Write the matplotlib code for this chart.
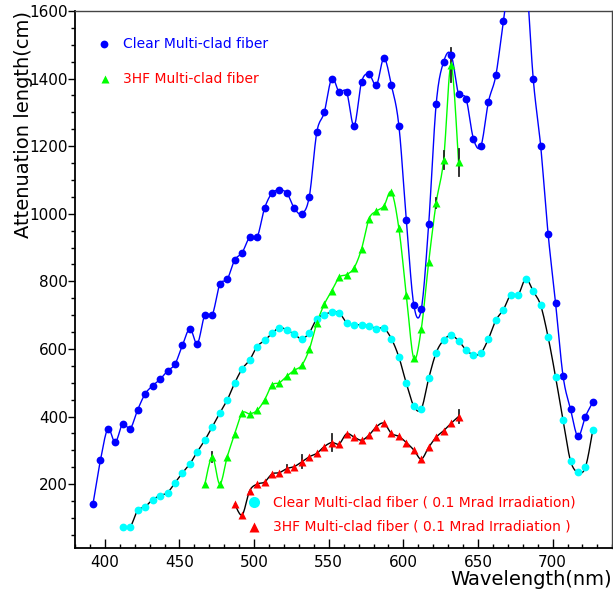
import numpy as np
import matplotlib
matplotlib.use("Agg")
import matplotlib.pyplot as plt
from matplotlib.lines import Line2D
from matplotlib.ticker import MultipleLocator

plt.rcParams['font.family'] = ['DejaVu Sans']

# ---------------- data ----------------
clear_wl = [392, 397, 402, 407, 412, 417, 422, 427, 432, 437, 442, 447, 452, 457, 462,
            467, 472, 477, 482, 487, 492, 497, 502, 507, 512, 517, 522, 527, 532, 537,
            542, 547, 552, 557, 562, 567, 572, 577, 582, 587, 592, 597, 602, 607, 612,
            617, 622, 627, 632, 637, 642, 647, 652, 657, 662, 667, 672, 677, 682, 687,
            692, 697, 702, 707, 712, 717, 722, 727]
clear_att = [140, 270, 363, 324, 379, 364, 420, 467, 491, 510, 535, 555, 611, 660, 616,
             701, 701, 791, 806, 863, 885, 930, 930, 1016, 1061, 1070, 1061, 1016, 1000, 1051,
             1241, 1300, 1400, 1360, 1360, 1260, 1390, 1413, 1381, 1460, 1380, 1261, 981, 730, 717,
             971, 1325, 1450, 1471, 1354, 1341, 1221, 1201, 1331, 1410, 1570, 1720, 1800, 1720, 1400,
             1201, 940, 735, 520, 422, 341, 400, 443]

clear_irr_wl = [412, 417, 422, 427, 432, 437, 442, 447, 452, 457, 462, 467, 472, 477, 482,
                487, 492, 497, 502, 507, 512, 517, 522, 527, 532, 537, 542, 547, 552, 557,
                562, 567, 572, 577, 582, 587, 592, 597, 602, 607, 612, 617, 622, 627, 632,
                637, 642, 647, 652, 657, 662, 667, 672, 677, 682, 687, 692, 697, 702, 707,
                712, 717, 722, 727]
clear_irr_att = [74, 74, 122, 133, 154, 166, 175, 204, 233, 260, 296, 330, 370, 410, 449,
                 499, 541, 567, 607, 625, 646, 663, 656, 643, 630, 648, 690, 701, 709, 707,
                 678, 671, 672, 668, 660, 661, 630, 576, 498, 431, 422, 513, 589, 626, 640,
                 624, 597, 583, 588, 630, 685, 716, 761, 761, 807, 771, 729, 635, 517, 389,
                 269, 235, 250, 361]

hf_wl = [467, 472, 477, 482, 487, 492, 497, 502, 507, 512, 517, 522, 527, 532, 537,
         542, 547, 552, 557, 562, 567, 572, 577, 582, 587, 592, 597, 602, 607, 612,
         617, 622, 627, 632, 637]
hf_att = [200, 281, 200, 281, 348, 410, 408, 418, 449, 493, 500, 520, 537, 552, 599,
          676, 732, 772, 812, 820, 840, 896, 985, 1008, 1023, 1064, 957, 760, 572, 659,
          858, 1033, 1160, 1440, 1152]
hf_err = [0, 15, 0, 0, 0, 0, 0, 0, 0, 0, 0, 0, 0, 0, 0,
          0, 0, 0, 0, 0, 0, 0, 0, 0, 0, 0, 0, 0, 0, 0,
          0, 15, 27, 51, 40]

hf_irr_wl = [487, 492, 497, 502, 507, 512, 517, 522, 527, 532, 537, 542, 547, 552, 557,
             562, 567, 572, 577, 582, 587, 592, 597, 602, 607, 612, 617, 622, 627, 632, 637]
hf_irr_att = [141, 109, 180, 200, 206, 230, 234, 246, 252, 266, 281, 291, 311, 323, 319,
              349, 339, 330, 345, 370, 380, 350, 341, 323, 301, 274, 309, 339, 358, 380, 400]
hf_irr_err = [0, 0, 0, 0, 0, 0, 0, 10, 0, 19, 0, 0, 0, 24, 0,
              0, 0, 0, 0, 0, 0, 0, 0, 0, 0, 0, 0, 0, 0, 0, 20]

legend_top = ["Clear Multi-clad fiber", "3HF Multi-clad fiber"]
legend_bottom = ["Clear Multi-clad fiber ( 0.1 Mrad Irradiation)",
                 "3HF Multi-clad fiber ( 0.1 Mrad Irradiation )"]


def smooth(x, y, n=12):
    """Catmull-Rom curve through the data points (drawing only)."""
    P = np.column_stack([np.asarray(x, float), np.asarray(y, float)])
    P = np.vstack([P[0], P, P[-1]])
    t = np.linspace(0, 1, n, endpoint=False)[:, None]
    out = []
    for i in range(1, len(P) - 2):
        p0, p1, p2, p3 = P[i - 1], P[i], P[i + 1], P[i + 2]
        pts = 0.5 * (2 * p1 + (-p0 + p2) * t + (2 * p0 - 5 * p1 + 4 * p2 - p3) * t ** 2
                     + (-p0 + 3 * p1 - 3 * p2 + p3) * t ** 3)
        out.append(pts)
    out.append(P[-2][None, :])
    c = np.vstack(out)
    return c[:, 0], c[:, 1]


W, H = 613, 604
fig = plt.figure(figsize=(W / 100, H / 100), dpi=100)
L, R, T, B = 75, 612.3, 11, 548.3
ax = fig.add_axes([L / W, 1 - B / H, (R - L) / W, (B - T) / H])

lw = 1.0
# Clear
sx, sy = smooth(clear_wl, clear_att)
ax.plot(sx, sy, color='#0000ff', lw=lw, zorder=3)
ax.plot(clear_wl, clear_att, 'o', color='#0000ff', ms=5.6, mec='none', zorder=4)
# Clear irradiated
sx, sy = smooth(clear_irr_wl, clear_irr_att)
ax.plot(sx, sy, color='black', lw=lw, zorder=3)
ax.plot(clear_irr_wl, clear_irr_att, 'o', color='#00ffff', ms=5.6, mec='none', zorder=4)
# 3HF
sx, sy = smooth(hf_wl, hf_att)
ax.plot(sx, sy, color='#00ff00', lw=lw, zorder=3)
for xv, yv, e in zip(hf_wl, hf_att, hf_err):
    if e > 0:
        ax.plot([xv, xv], [yv - e, yv + e], color='#222222', lw=1.3, zorder=3.5)
ax.plot(hf_wl, hf_att, '^', color='#00ff00', ms=5.2, mec='none', zorder=4)
# 3HF irradiated
sx, sy = smooth(hf_irr_wl, hf_irr_att)
ax.plot(sx, sy, color='black', lw=lw, zorder=3)
for xv, yv, e in zip(hf_irr_wl, hf_irr_att, hf_irr_err):
    if e > 0:
        ax.plot([xv, xv], [yv - e, yv + e], color='#222222', lw=1.3, zorder=3.5)
ax.plot(hf_irr_wl, hf_irr_att, '^', color='#ff0000', ms=5.2, mec='none', zorder=4)

ax.set_xlim(380, 740)
ax.set_ylim(10, 1600)
ax.xaxis.set_major_locator(MultipleLocator(50))
ax.xaxis.set_minor_locator(MultipleLocator(10))
ax.yaxis.set_major_locator(MultipleLocator(200))
ax.yaxis.set_minor_locator(MultipleLocator(50))
ax.set_yticks([200, 400, 600, 800, 1000, 1200, 1400, 1600])

ax.tick_params(axis='x', which='major', direction='in', length=6.5, width=1, labelsize=11, pad=5)
ax.tick_params(axis='x', which='minor', direction='in', length=3.2, width=1)
ax.tick_params(axis='y', which='major', direction='out', length=5, width=1, labelsize=11, pad=0)
ax.tick_params(axis='y', which='minor', direction='out', length=3.2, width=1)

for s in ['left', 'bottom']:
    ax.spines[s].set_linewidth(1.3)
for s in ['top', 'right']:
    ax.spines[s].set_linewidth(1.0)
    ax.spines[s].set_color('#444444')

ax.set_xlabel("Wavelength(nm)", fontsize=14, loc='right')
ax.xaxis.set_label_coords(1.0, -0.040)
ax.set_ylabel("Attenuation length(cm)", fontsize=14, loc='top')
ax.yaxis.set_label_coords(-0.078, 1.0)


def px(x, y):
    return x / W, 1 - y / H


# top legend
for (mx, my), mk, col, txt, tcol in [((104, 44), 'o', '#0000ff', legend_top[0], '#0000ff'),
                                      ((105, 79), '^', '#00ff00', legend_top[1], '#ff0000')]:
    fx, fy = px(mx, my)
    fig.add_artist(Line2D([fx], [fy], marker=mk, color=col, ms=5.6 if mk == 'o' else 5.2,
                          mec='none', transform=fig.transFigure))
    tx, ty = px(123, my)
    fig.text(tx, ty, txt, color=tcol, fontsize=10, va='center', ha='left')

# bottom legend
for (mx, my), mk, col, txt in [((254, 502), 'o', '#00ffff', legend_bottom[0]),
                               ((254, 527), '^', '#ff0000', legend_bottom[1])]:
    fx, fy = px(mx, my)
    fig.add_artist(Line2D([fx], [fy], marker=mk, color=col, ms=8 if mk == 'o' else 7,
                          mec='none', transform=fig.transFigure))
    tx, ty = px(273, my)
    fig.text(tx, ty, txt, color='#ff0000', fontsize=10, va='center', ha='left')

fig.savefig("out.png", dpi=100)
